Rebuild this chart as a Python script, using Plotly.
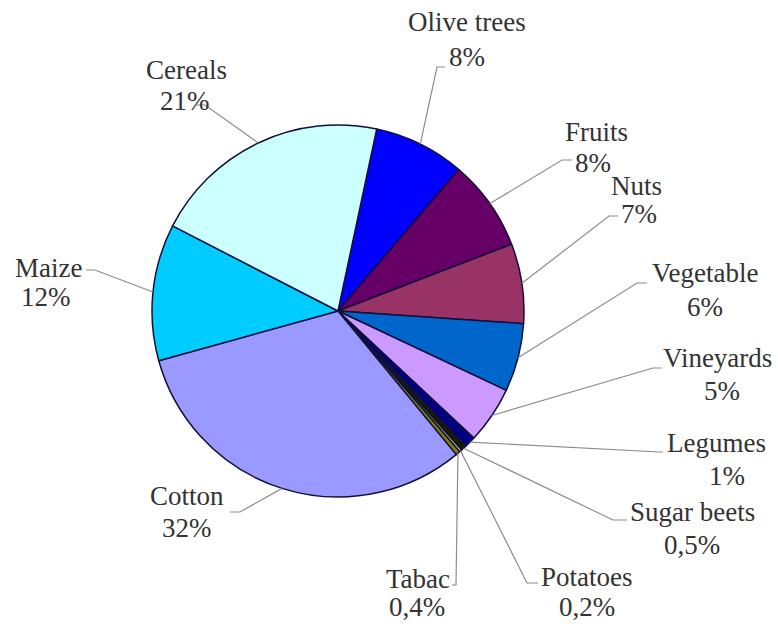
import math
import plotly.graph_objects as go

# Share of irrigated area by crop (%), clockwise from the top
crops = ["Olive trees", "Fruits", "Nuts", "Vegetable", "Vineyards", "Legumes",
         "Sugar beets", "Potatoes", "Tabac", "Cotton", "Maize", "Cereals"]
shares = [8, 8, 7, 6, 5, 1, 0.5, 0.2, 0.4, 32, 12, 21]
share_labels = ["8%", "8%", "7%", "6%", "5%", "1%", "0,5%", "0,2%", "0,4%", "32%", "12%", "21%"]
slice_colors = ["#0000FF", "#660066", "#993366", "#0066CC", "#CC99FF", "#000080",
                "#1A1A00", "#FFFF99", "#808000", "#9999FF", "#00CCFF", "#CCFFFF"]

W, H = 778, 624
CX, CY, R = 338, 311, 186        # pie centre and radius in pixels
ROTATION = 12                    # start angle, degrees clockwise from 12 o'clock

# Name centre, percentage centre and leader-line elbow/hook points (pixels)
label_pos = {
    "Olive trees": ((467, 22), (467, 57), [(437, 67), (445, 67)]),
    "Fruits":      ((596, 132), (593, 163), [(562, 160), (572, 160)]),
    "Nuts":        ((636, 186), (639, 214), [(609, 216), (618, 216)]),
    "Vegetable":   ((705, 273), (705, 307), [(637, 283), (647, 283)]),
    "Vineyards":   ((717, 358), (722, 391), [(653, 368), (662, 368)]),
    "Legumes":     ((716, 443), (727, 476), [(660, 452), (663, 452)]),
    "Sugar beets": ((692, 512), (692, 545), [(613, 520), (627, 520)]),
    "Potatoes":    ((587, 577), (587, 607), [(527, 583), (538, 583)]),
    "Tabac":       ((418, 579), (417, 607), [(456, 585), (452, 585)]),
    "Cotton":      ((187, 496), (187, 528), [(240, 512), (230, 512)]),
    "Maize":       ((48, 268), (46, 297), [(95, 270), (86, 270)]),
    "Cereals":     ((186, 70), (185, 101), [(205, 105), (197, 105)]),
}

LABEL_FONT = dict(family="Liberation Serif, Times New Roman, serif", size=27, color="#333333")


def px(x):
    return x / W


def py(y):
    return 1 - y / H


fig = go.Figure(go.Pie(
    labels=crops,
    values=shares,
    sort=False,
    direction="clockwise",
    rotation=ROTATION,
    marker=dict(colors=slice_colors, line=dict(color="#10103A", width=1.5)),
    textinfo="none",
    hoverinfo="label+percent",
    domain=dict(x=[px(CX - R), px(CX + R)], y=[py(CY + R), py(CY - R)]),
    showlegend=False,
))

total = sum(shares)
cum = 0.0
shapes, annotations = [], []
for name, val, pct in zip(crops, shares, share_labels):
    # leader line starts on the rim at the slice's mid angle
    mid = ROTATION + (cum + val / 2) / total * 360
    cum += val
    a = math.radians(mid)
    ex, ey = CX + R * math.sin(a), CY - R * math.cos(a)
    (nx, ny), (qx, qy), pts = label_pos[name]
    path = f"M {px(ex)},{py(ey)}" + "".join(f" L {px(x)},{py(y)}" for x, y in pts)
    shapes.append(dict(type="path", path=path, xref="paper", yref="paper",
                       line=dict(color="#8C8C8C", width=1.2)))
    for txt, x, y in ((name, nx, ny), (pct, qx, qy)):
        annotations.append(dict(
            text=txt, x=px(x), y=py(y), xref="paper", yref="paper",
            xanchor="center", yanchor="middle", align="center", showarrow=False,
            font=LABEL_FONT,
        ))

fig.update_layout(
    width=W, height=H,
    margin=dict(l=0, r=0, t=0, b=0),
    paper_bgcolor="white", plot_bgcolor="white",
    shapes=shapes, annotations=annotations,
)

fig.write_html("out.html")
